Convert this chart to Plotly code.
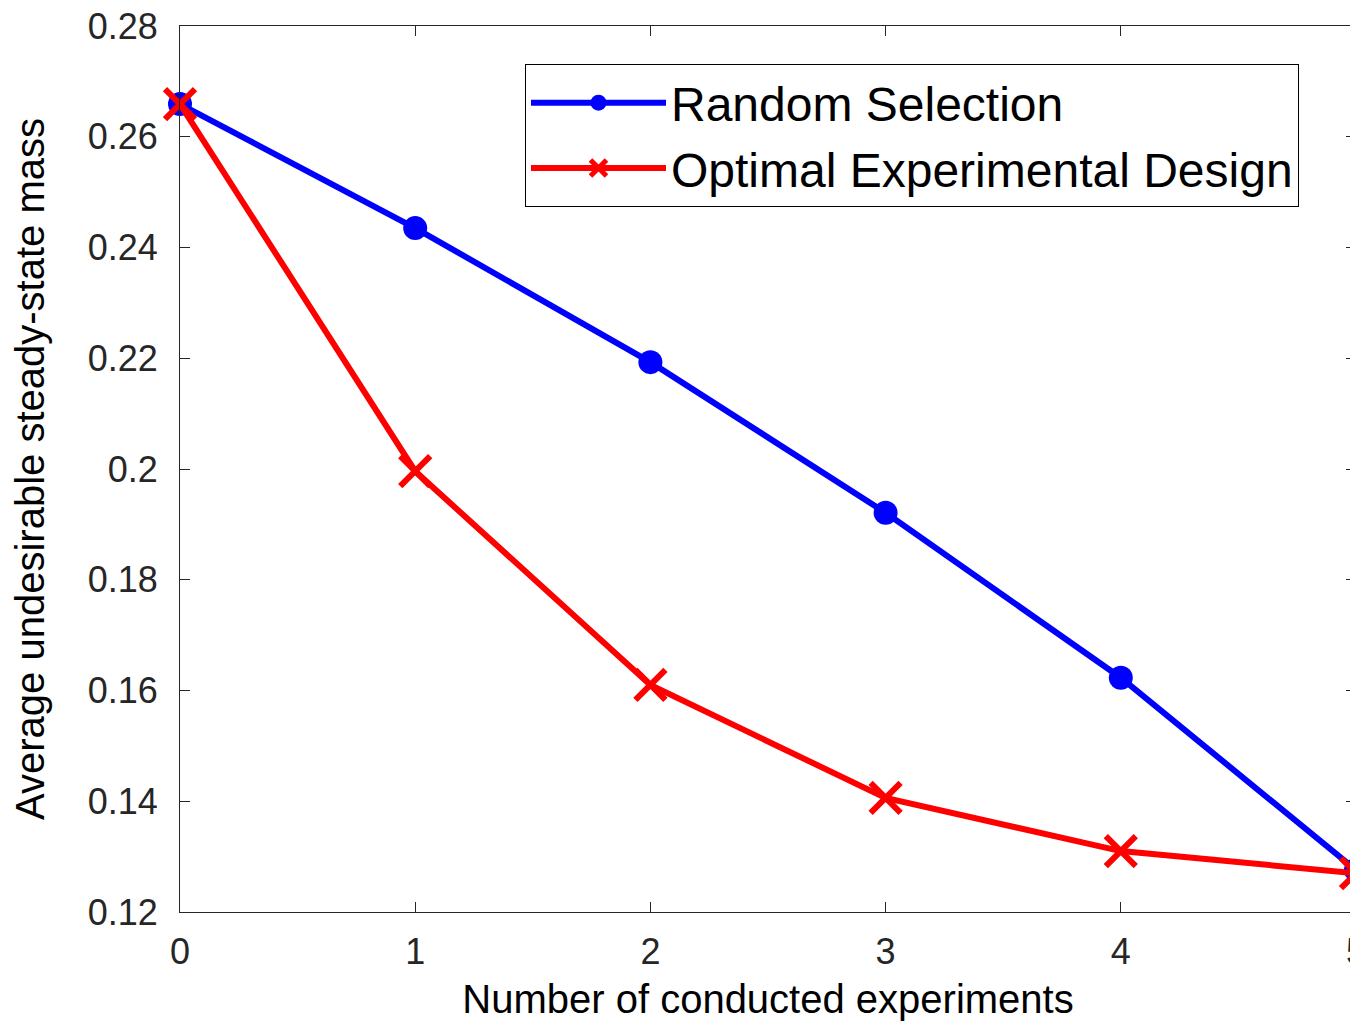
import plotly.graph_objects as go

experiments = [0, 1, 2, 3, 4, 5]
random_selection = [0.2659, 0.2435, 0.2193, 0.1921, 0.1623, 0.1276]
optimal_design = [0.2659, 0.1996, 0.1610, 0.1406, 0.1310, 0.1270]

y_ticks = [0.12, 0.14, 0.16, 0.18, 0.2, 0.22, 0.24, 0.26, 0.28]
y_ticklabels = ["0.12", "0.14", "0.16", "0.18", "0.2", "0.22", "0.24", "0.26", "0.28"]

FONT = "Liberation Sans, Arial, sans-serif"
AX = "#262626"

fig = go.Figure()
fig.add_trace(go.Scatter(
    x=experiments, y=random_selection, name="Random Selection",
    mode="lines+markers", cliponaxis=False,
    line=dict(color="#0000ff", width=6),
    marker=dict(symbol="circle", size=24, color="#0000ff"),
))
fig.add_trace(go.Scatter(
    x=experiments, y=optimal_design, name="Optimal Experimental Design",
    mode="lines+markers", cliponaxis=False,
    line=dict(color="#ff0000", width=6),
    marker=dict(symbol="x-thin", size=30, color="#ff0000",
                line=dict(color="#ff0000", width=6)),
))

axis_common = dict(
    showgrid=False, zeroline=False, showline=True, linecolor=AX, linewidth=1,
    mirror="ticks", ticks="inside", ticklen=10, tickcolor=AX, tickwidth=1,
    tickfont=dict(family=FONT, size=36, color=AX),
    ticklabeloverflow="allow", automargin=False,
)

fig.update_layout(
    width=1350, height=1013,
    paper_bgcolor="white", plot_bgcolor="white",
    margin=dict(l=172, r=2, t=18, b=109),
    font=dict(family=FONT, color="black"),
    xaxis=dict(range=[0, 5], tickvals=experiments, ticktext=[str(v) for v in experiments],
               ticklabelstandoff=8,
               title=dict(text="Number of conducted experiments", font=dict(family=FONT, size=40, color="black"), standoff=20),
               **axis_common),
    yaxis=dict(range=[0.12, 0.28], tickvals=y_ticks, ticktext=y_ticklabels,
               ticklabelstandoff=14,
               title=dict(text="Average undesirable steady-state mass", font=dict(family=FONT, size=40, color="black"), standoff=30),
               **axis_common),
    legend=dict(x=(525 - 180) / 1176, y=(912 - 64) / 886, xanchor="left", yanchor="top",
                bgcolor="white", bordercolor="black", borderwidth=1,
                font=dict(family=FONT, size=48, color="black"),
                itemwidth=135, tracegroupgap=0),
    showlegend=True,
)

fig.write_html("out.html")
